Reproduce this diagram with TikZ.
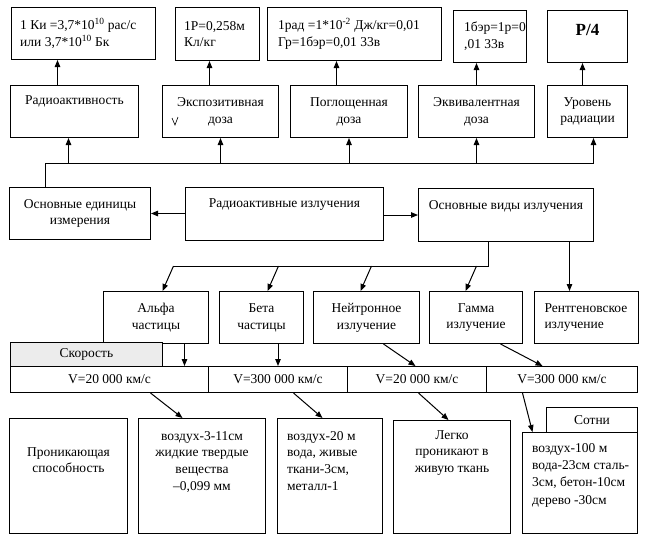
\documentclass[tikz,border=0pt]{standalone}
\usepackage{fontspec}
\setmainfont{Liberation Serif}
\usetikzlibrary{arrows.meta,positioning}

\begin{document}
\begin{tikzpicture}[x=1pt,y=-1pt,
  font=\fontsize{13.5}{16.8}\selectfont,
  box/.style 2 args={draw,line width=1pt,inner sep=0pt,anchor=north west,
    minimum width=#1,minimum height=#2,align=center},
  txt/.style={inner sep=0pt,align=center},
  ltxt/.style={inner sep=0pt,align=left},
  arr/.style={-{Triangle[length=7pt,width=5.5pt]},line width=1pt},
  line/.style={line width=1pt}]

\useasboundingbox (0,0) rectangle (651,539);

% values of the units
\node[box={144pt}{52pt}] (ki) at (11,7) {};
\node[ltxt,right=9pt of ki.west] (ki-t) {1 Ки =3,7*10\textsuperscript{10} рас/с\\или 3,7*10\textsuperscript{10} Бк};
\node[box={84pt}{53pt}] (rp) at (175,7) {};
\node[ltxt,right=9pt of rp.west] (rp-t) {1Р=0,258м\\Кл/кг};
\node[box={174pt}{53pt}] (rad) at (267,7) {};
\node[ltxt,right=11pt of rad.west] (rad-t) {1рад =1*10\textsuperscript{-2} Дж/кг=0,01\\Гр=1бэр=0,01 33в};
\node[box={73pt}{52pt}] (ber) at (453,10) {};
\node[ltxt,right=11pt of ber.west] (ber-t) {1бэр=1р=0\\,01 33в};
\node[box={80pt}{52pt}] (pfour) at (547,10) {};
\node[txt,font=\bfseries\fontsize{17}{20}\selectfont,below=14.5pt of pfour.north] (pfour-t) {Р/4};

% units
\node[box={128pt}{52pt}] (radact) at (10,85) {};
\node[txt,below=10pt of radact.north] (radact-t) {Радиоактивность};
\node[box={116pt}{52pt}] (expo) at (162,85) {Экспозитивная\\доза};
\node[box={117pt}{52pt}] (pogl) at (290,85) {Поглощенная\\доза};
\node[box={116pt}{52pt}] (ekv) at (418,85) {Эквивалентная\\доза};
\node[box={80pt}{52pt}] (urov) at (547,85) {Уровень\\радиации};
\draw[line width=0.6pt] (172,118) -- (175,125) -- (178,117);

% middle row
\node[box={141pt}{52pt}] (edin) at (9,187) {Основные единицы\\измерения};
\node[box={198pt}{53pt}] (radizl) at (185,187) {};
\node[txt,below=11pt of radizl.north] (radizl-t) {Радиоактивные излучения};
\node[box={175pt}{53pt}] (vidy) at (418,188) {};
\node[txt,below=12pt of vidy.north] (vidy-t) {Основные виды излучения};

% kinds of radiation
\node[box={105pt}{52pt}] (alfa) at (103,291) {Альфа\\частицы};
\node[box={84pt}{52pt}] (beta) at (219,291) {Бета\\частицы};
\node[box={106pt}{52pt}] (neut) at (313,291) {Нейтронное\\излучение};
\node[box={93pt}{52pt}] (gamma) at (429,291) {Гамма\\излучение};
\node[box={104pt}{52pt},text width=84pt,align=left] (xray) at (534,291) {Рентгеновское\\излучение};

% speed
\node[box={152pt}{24pt},fill=gray!15] (speed) at (10,342) {Скорость};
\node[box={198pt}{26pt}] (v1) at (10,366) {V=20 000 км/с};
\node[box={139pt}{26pt}] (v2) at (208,366) {V=300 000 км/с};
\node[box={139pt}{26pt}] (v3) at (347,366) {V=20 000 км/с};
\node[box={151pt}{26pt}] (v4) at (486,366) {V=300 000 км/с};

% penetration
\node[box={118pt}{115pt}] (pron) at (9,418) {};
\node[txt,below=29pt of pron.north] (pron-t) {Проникающая\\способность};
\node[box={127pt}{115pt}] (alfapen) at (138,418) {};
\node[txt,below=13pt of alfapen.north] (alfapen-t) {воздух-3-11см\\жидкие твердые\\вещества\\ –0,099 мм};
\node[box={105pt}{115pt}] (betapen) at (277,418) {};
\node[ltxt,anchor=north west] (betapen-t) at ([xshift=10pt,yshift=-13pt]betapen.north west) {воздух-20 м\\вода, живые\\ткани-3см,\\металл-1};
\node[box={117pt}{113pt}] (neutpen) at (393,420) {};
\node[txt,below=10pt of neutpen.north] (neutpen-t) {Легко\\проникают в\\живую ткань};
\node[box={91pt}{25pt}] (sotni) at (546,407) {Сотни};
\node[box={115pt}{101pt}] (gampen) at (522,432) {};
\node[ltxt,anchor=north west,font=\fontsize{13.5}{17.3}\selectfont] (gampen-t) at ([xshift=10pt,yshift=-11pt]gampen.north west) {воздух-100 м\\вода-23см сталь-\\3см, бетон-10см\\дерево -30см};

% connectors
\coordinate (bus) at (0,163);
\coordinate (fork) at (173,266);
\draw[arr] ([xshift=-17pt]radact.north) -- ([xshift=-17pt]radact.north |- ki.south);
\draw[arr] ([xshift=-11pt]expo.north) -- ([xshift=-11pt]expo.north |- rp.south);
\draw[arr] ([xshift=-12.5pt]pogl.north) -- ([xshift=-12.5pt]pogl.north |- rad.south);
\draw[arr] (ekv.north) -- (ekv.north |- ber.south);
\draw[arr] ([xshift=-5pt]urov.north) -- ([xshift=-5pt]urov.north |- pfour.south);

\draw[line] ([xshift=-34.5pt]edin.north) |- ([xshift=6pt]urov.south |- bus);
\draw[arr] ([xshift=-6pt]radact.south |- bus) -- ([xshift=-6pt]radact.south);
\draw[arr] (expo.south |- bus) -- (expo.south);
\draw[arr] (pogl.south |- bus) -- (pogl.south);
\draw[arr] (ekv.south |- bus) -- (ekv.south);
\draw[arr] ([xshift=6pt]urov.south |- bus) -- ([xshift=6pt]urov.south);

\draw[arr] (edin.east -| radizl.west) -- (edin.east);
\draw[arr] (vidy.west -| radizl.east) -- (vidy.west);

\draw[line] ([xshift=-17.5pt]vidy.south) |- (fork);
\draw[arr] ([xshift=17.5pt]alfa.north |- fork) -- ([xshift=6.5pt]alfa.north);
\draw[arr] ([xshift=17pt]beta.north |- fork) -- ([xshift=6pt]beta.north);
\draw[arr] ([xshift=5pt]neut.north |- fork) -- ([xshift=-6pt]neut.north);
\draw[arr] ([xshift=0.5pt]gamma.north |- fork) -- ([xshift=-10.5pt]gamma.north);
\draw[arr] ([xshift=63.5pt]vidy.south) -- ([xshift=-17pt]xray.north);

\draw[arr] ([xshift=28.5pt]alfa.south) -- ([xshift=75pt]v1.north);
\draw[arr] ([xshift=16.5pt]beta.south) -- (v2.north);
\draw[arr] ([xshift=17pt]neut.south) -- ([xshift=-1.5pt]v3.north);
\draw[arr] ([xshift=24.5pt]gamma.south) -- ([xshift=-19.5pt]v4.north);

\draw[arr] ([xshift=41pt]v1.south) -- ([xshift=-19.5pt]alfapen.north);
\draw[arr] ([xshift=15.5pt]v2.south) -- ([xshift=-7.5pt]betapen.north);
\draw[arr] ([xshift=1.5pt]v3.south) -- ([xshift=-3.5pt]neutpen.north);
\draw[arr] ([xshift=-39.5pt]v4.south) -- ([xshift=-47.5pt]gampen.north);
\end{tikzpicture}
\end{document}
